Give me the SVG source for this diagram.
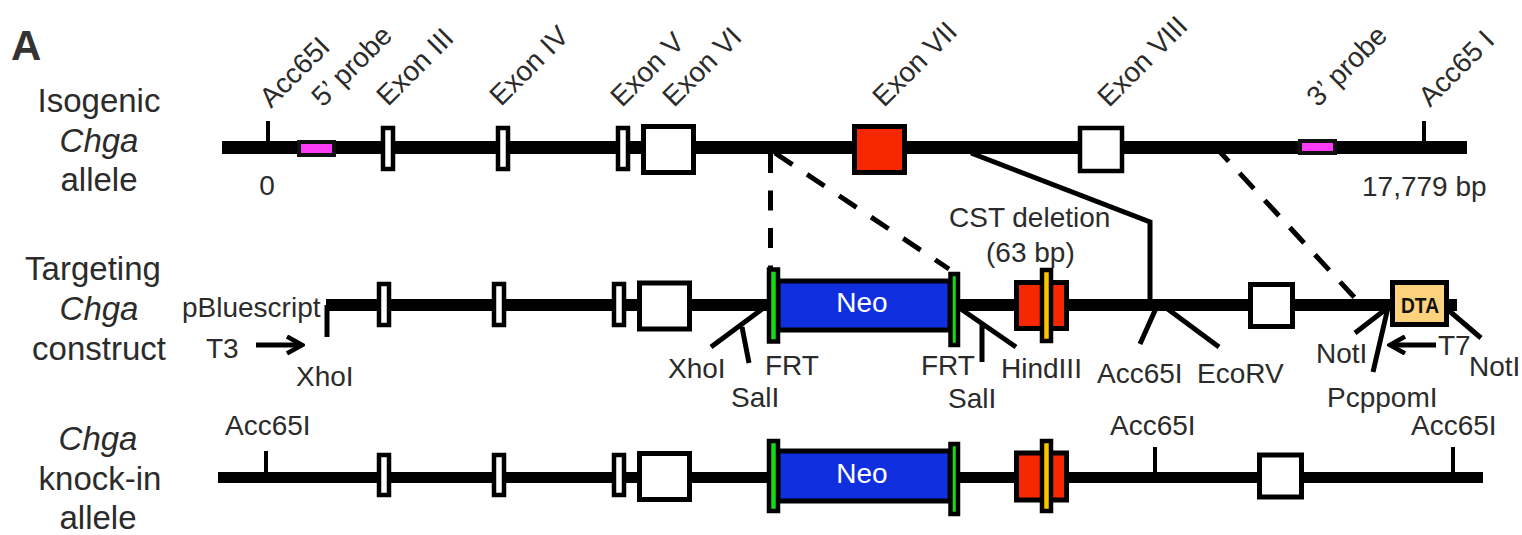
<svg xmlns="http://www.w3.org/2000/svg" width="1522" height="535" viewBox="0 0 1522 535">
<style>
text{font-family:"Liberation Sans",Arial,sans-serif;font-size:28px;fill:#2b2b2b}
.t{font-size:33px;text-anchor:middle}
.i{font-style:italic}
.m{text-anchor:middle}
.b{fill:#fff;stroke:#000;stroke-width:5}
.s{fill:#fff;stroke:#000;stroke-width:4.500}
.r{fill:#f72800;stroke:#000;stroke-width:5}
.g{fill:#14dc14;stroke:#000;stroke-width:4.500}
.y{fill:#fdc400;stroke:#000;stroke-width:4.500}
.n{fill:#1030e0;stroke:#000;stroke-width:5}
.p{fill:#fb3cf4;stroke:#111;stroke-width:4}
.l{fill:none;stroke:#000;stroke-width:5}
.h{fill:none;stroke:#000;stroke-width:4}
.d{fill:none;stroke:#000;stroke-width:5}
</style>
<defs>
<marker id="ah" viewBox="0 0 20 20" refX="17" refY="10" markerWidth="20" markerHeight="20" markerUnits="userSpaceOnUse" orient="auto"><path d="M2 1.500L17 10L2 18.500" fill="none" stroke="#000" stroke-width="4.500"/></marker>
</defs>
<text x="11" y="60" style="font-size:42px;font-weight:bold;fill:#333">A</text>
<g id="labels">
<text class="t" x="99" y="112">Isogenic</text><text class="t i" x="99" y="152">Chga</text><text class="t" x="99" y="191">allele</text>
<text class="t" x="93" y="280">Targeting</text><text class="t i" x="99" y="320">Chga</text><text class="t" x="99" y="360">construct</text>
<text class="t i" x="98" y="450">Chga</text><text class="t" x="100" y="490">knock-in</text><text class="t" x="98" y="529">allele</text>
</g>
<g id="connectors">
<path class="d" stroke-dasharray="20 17.500" d="M770.500 153V268"/>
<path class="d" stroke-dasharray="21 17.500" d="M775 153L949 269"/>
<path class="l" d="M971 153L1150 222V302"/>
<path class="d" stroke-dasharray="21 16" d="M1214.500 146L1355 298"/>
<path class="l" d="M327 305V337"/>
<path class="l" d="M765 307L711 347M742 327L749 363M958 307L1016 347M982 325V362M1157 306L1140 344M1165 307L1219 347M1390 306L1355 333M1389 303L1373 372M1447 309L1481 338"/>
<path class="l" d="M256 345H302" marker-end="url(#ah)"/>
<path class="l" d="M1436 345H1390" marker-end="url(#ah)"/>
<path class="h" d="M268 121V142M1424 121V142M266 451V473M1155 447V473M1453 447V473"/>
</g>
<g id="allele-isogenic">
<rect x="222" y="141" width="1245" height="13"/>
<g id="i-probe5"><rect class="p" x="299" y="142" width="35" height="13"/></g>
<g id="i-exon3"><rect class="s" x="383" y="128" width="10" height="41"/></g>
<g id="i-exon4"><rect class="s" x="498" y="128" width="10" height="41"/></g>
<g id="i-exon5"><rect class="s" x="618" y="128" width="10" height="41"/></g>
<g id="i-exon6"><rect class="b" x="643.500" y="126.500" width="50" height="46"/></g>
<g id="i-exon7"><rect class="r" x="854.500" y="126.500" width="50" height="46"/></g>
<g id="i-exon8"><rect class="s" x="1080" y="128" width="42" height="43"/></g>
<g id="i-probe3"><rect class="p" x="1300" y="141" width="35" height="12"/></g>
</g>
<g id="allele-targeting">
<rect x="326" y="299" width="1131" height="12"/>
<g id="t-exon3"><rect class="s" x="379" y="284" width="10" height="41"/></g>
<g id="t-exon4"><rect class="s" x="494" y="284" width="10" height="41"/></g>
<g id="t-exon5"><rect class="s" x="614" y="284" width="10" height="41"/></g>
<g id="t-exon6"><rect class="b" x="639.500" y="283" width="50" height="46"/></g>
<g id="t-neo"><rect class="n" x="778" y="281" width="172" height="49"/><text class="m" x="862" y="312" style="fill:#fff">Neo</text></g>
<g id="t-frt1"><rect class="g" x="769" y="269.500" width="9" height="72"/></g>
<g id="t-frt2"><rect class="g" x="950.500" y="274" width="7.500" height="71"/></g>
<g id="t-exon7"><rect class="r" x="1016.500" y="282.500" width="50" height="46"/><rect class="y" x="1042" y="270" width="9" height="71"/></g>
<g id="t-exon8"><rect class="b" x="1250.500" y="284.500" width="42" height="42"/></g>
<g id="t-dta"><rect class="b" x="1392.500" y="282.500" width="54" height="42" style="fill:#fdd27c"/><text class="m" x="1420" y="313" textLength="38" lengthAdjust="spacingAndGlyphs" style="font-size:22px;font-weight:bold;fill:#111">DTA</text></g>
</g>
<g id="allele-knockin">
<rect x="218" y="472" width="1265" height="11"/>
<g id="k-exon3"><rect class="s" x="379" y="455" width="10" height="40"/></g>
<g id="k-exon4"><rect class="s" x="494" y="455" width="10" height="40"/></g>
<g id="k-exon5"><rect class="s" x="614" y="455" width="10" height="40"/></g>
<g id="k-exon6"><rect class="b" x="639.500" y="453.500" width="50" height="46"/></g>
<g id="k-neo"><rect class="n" x="778" y="451" width="172" height="50"/><text class="m" x="862" y="483" style="fill:#fff">Neo</text></g>
<g id="k-frt1"><rect class="g" x="769" y="441" width="9" height="70"/></g>
<g id="k-frt2"><rect class="g" x="950.500" y="444" width="7.500" height="70"/></g>
<g id="k-exon7"><rect class="r" x="1016.500" y="453" width="50" height="47"/><rect class="y" x="1042" y="441" width="9" height="70"/></g>
<g id="k-exon8"><rect class="b" x="1259.500" y="455" width="42" height="42"/></g>
</g>
<g id="top-labels">
<text transform="translate(271,109) rotate(-45)">Acc65I</text>
<text transform="translate(323,108) rotate(-45)">5’ probe</text>
<text transform="translate(388,107) rotate(-45)">Exon III</text>
<text transform="translate(501,107) rotate(-45)">Exon IV</text>
<text transform="translate(622,108) rotate(-45)">Exon V</text>
<text transform="translate(674,108) rotate(-45)">Exon VI</text>
<text transform="translate(884,108) rotate(-45)">Exon VII</text>
<text transform="translate(1109,108) rotate(-45)">Exon VIII</text>
<text transform="translate(1318,108) rotate(-45)">3’ probe</text>
<text transform="translate(1430,108) rotate(-45)">Acc65 I</text>
</g>
<g id="site-labels">
<text x="267" y="195" class="m">0</text>
<text x="1362" y="196">17,779 bp</text>
<text x="182" y="317">pBluescript</text>
<text x="206" y="358">T3</text>
<text x="296" y="386">XhoI</text>
<text x="668" y="378">XhoI</text>
<text x="731" y="407">SalI</text>
<text x="765" y="375">FRT</text>
<text x="921" y="375">FRT</text>
<text x="948" y="408">SalI</text>
<text x="1001" y="378">HindIII</text>
<text x="1097" y="383">Acc65I</text>
<text x="1197" y="383">EcoRV</text>
<text x="1316" y="363">NotI</text>
<text x="1438" y="355">T7</text>
<text x="1469" y="376">NotI</text>
<text x="1327" y="407">PcppomI</text>
<text x="949" y="227">CST deletion</text>
<text x="986" y="262">(63 bp)</text>
<text x="225" y="435">Acc65I</text>
<text x="1110" y="435">Acc65I</text>
<text x="1411" y="435">Acc65I</text>
</g>
</svg>
